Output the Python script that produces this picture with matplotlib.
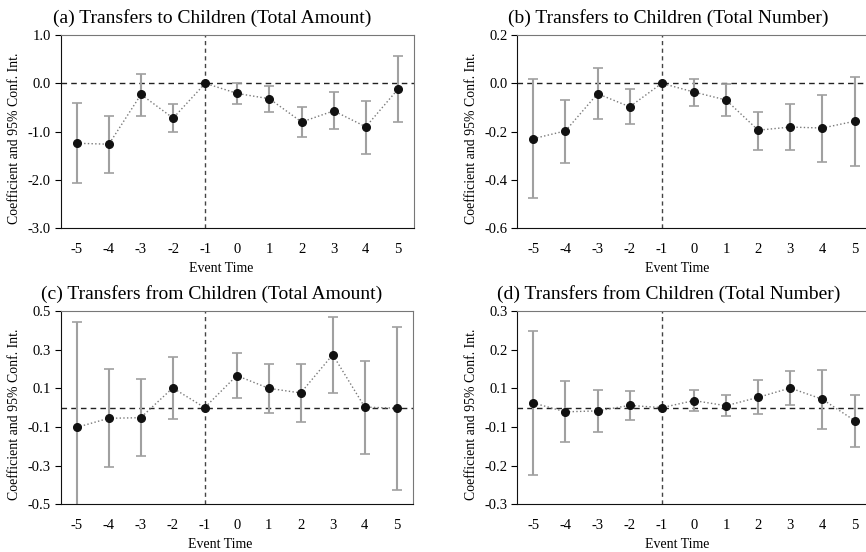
import matplotlib
matplotlib.use("Agg")
import matplotlib.pyplot as plt
import numpy as np

plt.rcParams['font.family'] = ['Liberation Serif', 'DejaVu Serif']

event_time = [-5, -4, -3, -2, -1, 0, 1, 2, 3, 4, 5]

# (a) Transfers to Children (Total Amount)
coef_a = [-1.24, -1.26, -0.23, -0.72, 0.0, -0.21, -0.32, -0.80, -0.57, -0.90, -0.12]
lo_a = [-2.07, -1.86, -0.68, -1.01, 0.0, -0.43, -0.59, -1.12, -0.95, -1.46, -0.81]
hi_a = [-0.41, -0.67, 0.20, -0.43, 0.0, 0.00, -0.06, -0.48, -0.17, -0.36, 0.57]

# (b) Transfers to Children (Total Number)
coef_b = [-0.229, -0.197, -0.043, -0.097, 0.0, -0.036, -0.069, -0.194, -0.181, -0.185, -0.157]
lo_b = [-0.476, -0.328, -0.149, -0.170, 0.0, -0.094, -0.137, -0.274, -0.277, -0.326, -0.342]
hi_b = [0.017, -0.068, 0.062, -0.023, 0.0, 0.019, -0.003, -0.117, -0.087, -0.047, 0.025]

# (c) Transfers from Children (Total Amount)
coef_c = [-0.102, -0.055, -0.052, 0.102, 0.0, 0.166, 0.100, 0.076, 0.274, 0.003, -0.003]
lo_c = [-0.645, -0.309, -0.252, -0.059, 0.0, 0.048, -0.028, -0.074, 0.078, -0.241, -0.424]
hi_c = [0.441, 0.200, 0.148, 0.262, 0.0, 0.281, 0.224, 0.224, 0.471, 0.243, 0.419]

# (d) Transfers from Children (Total Number)
coef_d = [0.0145, -0.013, -0.010, 0.007, 0.0, 0.022, 0.006, 0.032, 0.061, 0.026, -0.040]
lo_d = [-0.210, -0.107, -0.077, -0.037, 0.0, -0.011, -0.027, -0.020, 0.008, -0.065, -0.121]
hi_d = [0.238, 0.082, 0.054, 0.051, 0.0, 0.054, 0.039, 0.085, 0.115, 0.117, 0.039]

titles = ["(a) Transfers to Children (Total Amount)",
          "(b) Transfers to Children (Total Number)",
          "(c) Transfers from Children (Total Amount)",
          "(d) Transfers from Children (Total Number)"]
yticks_a = [-3.0, -2.0, -1.0, 0.0, 1.0]
yticks_b = [-0.6, -0.4, -0.2, 0.0, 0.2]
yticks_c = [-0.5, -0.3, -0.1, 0.1, 0.3, 0.5]
yticks_d = [-0.3, -0.18, -0.06, 0.06, 0.18, 0.3]

fig = plt.figure(figsize=(8.66, 5.52), dpi=100)
positions = [
    [0.0701, 0.5864, 0.408, 0.3502],
    [0.5973, 0.5864, 0.408, 0.3502],
    [0.0701, 0.0864, 0.4065, 0.3502],
    [0.5973, 0.0864, 0.408, 0.3502],
]
panels = [
    (coef_a, lo_a, hi_a, yticks_a),
    (coef_b, lo_b, hi_b, yticks_b),
    (coef_c, lo_c, hi_c, yticks_c),
    (coef_d, lo_d, hi_d, yticks_d),
]

for pos, (coef, lo, hi, yt), title in zip(positions, panels, titles):
    ax = fig.add_axes(pos)
    x = np.array(event_time)
    c = np.array(coef)
    l = np.array(lo)
    h = np.array(hi)
    mask = x != -1
    ax.errorbar(x[mask], c[mask], yerr=[c[mask] - l[mask], h[mask] - c[mask]],
                fmt='none', ecolor='#a0a0a0', elinewidth=1.5, capsize=3.5,
                capthick=1.2, zorder=2)
    ax.plot(x, c, linestyle=':', color='#7a7a7a', linewidth=1.0, zorder=3)
    ax.plot(x, c, 'o', color='#111111', markersize=5.5, zorder=4)
    ax.axhline(0, color='#222222', linestyle=(0, (4, 3)), linewidth=1.0, zorder=1)
    ax.axvline(-1, color='#444444', linestyle=(0, (3, 2.5)), linewidth=1.0, zorder=1)
    ax.set_xlim(-5.5, 5.5)
    ax.set_ylim(yt[0], yt[-1])
    ax.set_yticks(yt)
    ax.set_yticklabels([f"{v:.1f}" for v in yt])
    ax.set_xticks(event_time)
    ax.set_xticklabels([str(v) for v in event_time])
    ax.tick_params(axis='x', length=0, labelsize=10.5, pad=10.5)
    ax.tick_params(axis='y', length=4, direction='out', labelsize=10.5, pad=3)
    ax.spines['left'].set_color('#111111')
    ax.spines['bottom'].set_color('#111111')
    ax.spines['top'].set_color('#777777')
    ax.spines['right'].set_color('#777777')
    ax.set_xlabel("Event Time", fontsize=10)
    ax.xaxis.set_label_coords(0.454, -0.174)
    ax.set_ylabel("Coefficient and 95% Conf. Int.", fontsize=9.9)
    ax.yaxis.set_label_coords(-0.112, 0.465)
    ax.text(0.428, 1.0 + 17.0 / 193.3, title, transform=ax.transAxes,
            ha='center', va='center', fontsize=14)

fig.savefig("out.png", dpi=100)
